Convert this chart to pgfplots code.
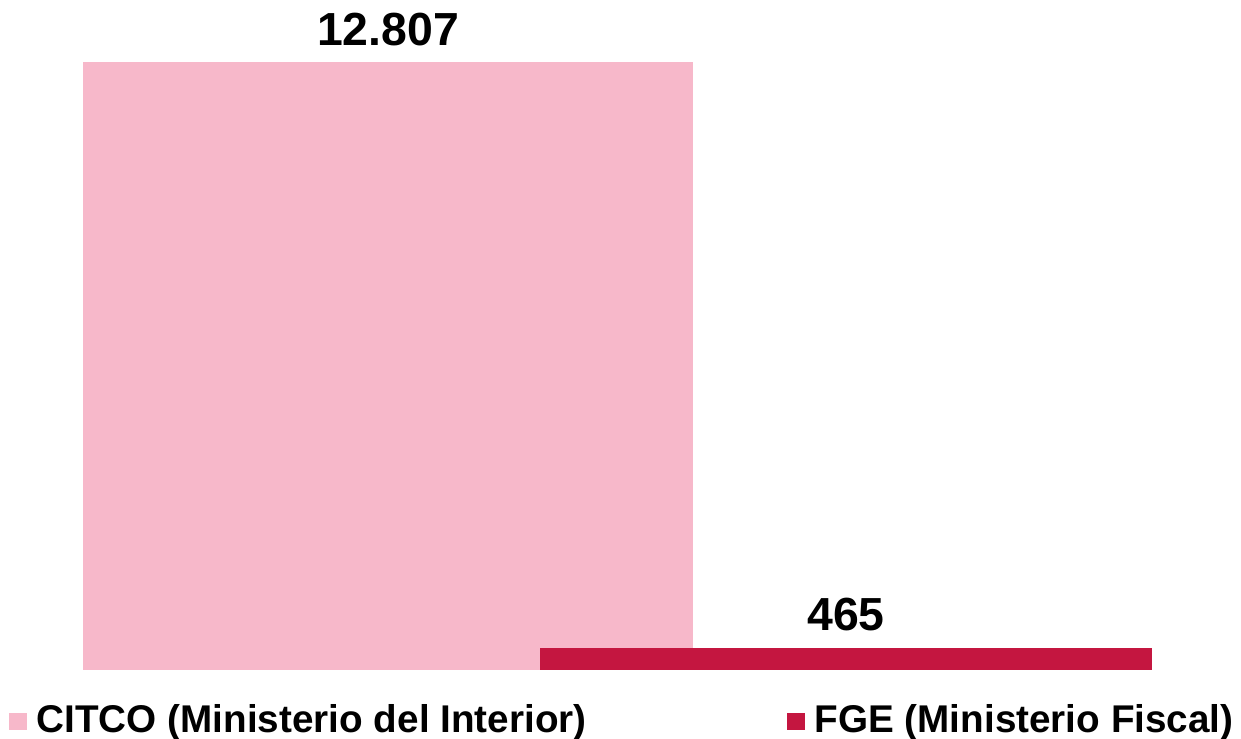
\documentclass[border=0pt]{standalone}
\usepackage{pgfplots}
\pgfplotsset{compat=1.18}
\usepackage{fontspec}
\setmainfont{Liberation Sans}
\definecolor{citco}{RGB}{247,184,202}
\definecolor{fge}{RGB}{196,22,64}
\begin{document}
\begin{tikzpicture}
\begin{axis}[
  name=ax,
  scale only axis,
  width=12.41cm, height=6.70cm,
  xmin=0, xmax=1241, ymin=0, ymax=14113,
  axis lines=none,
  clip=false,
  /pgf/number format/assume math mode=true,
  /pgf/number format/1000 sep={.},
  nodes near coords,
  nodes near coords style={font=\fontsize{13.2}{15}\selectfont\bfseries, anchor=base, yshift=1.7mm, text=black},
  legend columns=2,
  legend style={at={(8/1241,-0.04)}, anchor=north west, draw=none, fill=none,
    font=\fontsize{11}{13}\selectfont\bfseries, inner sep=0pt,
    /tikz/every odd column/.append style={column sep=0.03cm},
    /tikz/every even column/.append style={column sep=1.93cm}},
]
\addplot[ybar, bar width=610, bar shift=0pt, fill=citco, draw=none,
  legend image code/.code={\fill[citco] (0cm,-0.085cm) rectangle (0.18cm,0.085cm);}] coordinates {(388,12807)};
\addlegendentry{CITCO (Ministerio del Interior)}
\addplot[ybar, bar width=612, bar shift=0pt, fill=fge, draw=none,
  legend image code/.code={\fill[fge] (0cm,-0.085cm) rectangle (0.18cm,0.085cm);}] coordinates {(846,465)};
\addlegendentry{FGE (Ministerio Fiscal)}
\end{axis}
\pgfresetboundingbox
\path (ax.south west) ++(0,-0.68cm);
\path (ax.north east);
\end{tikzpicture}
\end{document}
